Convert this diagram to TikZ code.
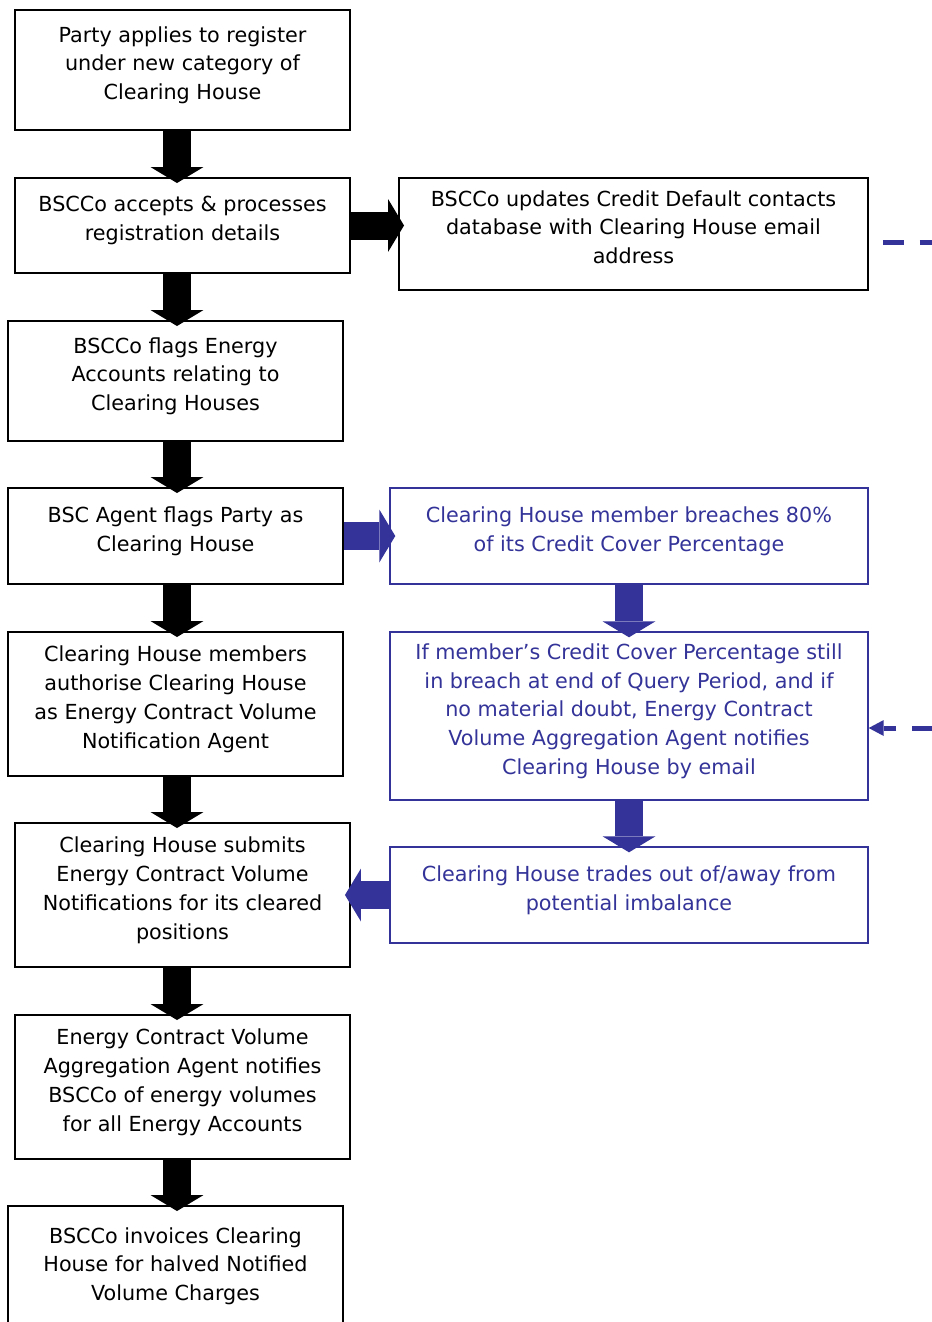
\documentclass[tikz,border=0pt]{standalone}
\usepackage{fontspec}
\setmainfont{DejaVu Sans}
\usetikzlibrary{arrows.meta}
\definecolor{chblue}{RGB}{51,51,153}
\tikzset{
  blackbox/.style={draw=black, line width=1.1pt, align=center, inner sep=0pt, execute at end node={\rule[-0.28cm]{0pt}{0pt}}},
  bluebox/.style={draw=chblue, text=chblue, line width=0.8pt, align=center, inner sep=0pt, execute at end node={\rule[-0.28cm]{0pt}{0pt}}},
  bigarrow/.style={line width=0.56cm, -{Triangle[width=1.06cm,length=0.32cm,line width=0pt]}, shorten >=-0.12cm},
  dashlink/.style={draw=chblue, line width=0.1cm, dash pattern=on 0.42cm off 0.32cm, dash phase=0.46cm}
}
\begin{document}
\begin{tikzpicture}[x=0.02cm, y=-0.02cm, every node/.style={font=\fontsize{11.8}{16.4}\selectfont}]
\useasboundingbox (0,0) rectangle (932,1322);
% Left column
\node[blackbox, minimum width=335*0.02cm, minimum height=120*0.02cm] (party) at (182.5,70) {Party applies to register\\under new category of\\Clearing House};
\node[blackbox, minimum width=335*0.02cm, minimum height=95*0.02cm] (accept) at (182.5,225.5) {BSCCo accepts \& processes\\registration details};
\node[blackbox, minimum width=335*0.02cm, minimum height=120*0.02cm] (flag) at (175.5,381) {BSCCo flags Energy\\Accounts relating to\\Clearing Houses};
\node[blackbox, minimum width=335*0.02cm, minimum height=96*0.02cm] (agent) at (175.5,536) {BSC Agent flags Party as\\Clearing House};
\node[blackbox, minimum width=335*0.02cm, minimum height=144*0.02cm] (authorise) at (175.5,704) {Clearing House members\\authorise Clearing House\\as Energy Contract Volume\\Notification Agent};
\node[blackbox, minimum width=335*0.02cm, minimum height=144*0.02cm] (submit) at (182.5,895) {Clearing House submits\\Energy Contract Volume\\Notifications for its cleared\\positions};
\node[blackbox, minimum width=335*0.02cm, minimum height=144*0.02cm] (aggregate) at (182.5,1087) {Energy Contract Volume\\Aggregation Agent notifies\\BSCCo of energy volumes\\for all Energy Accounts};
\node[blackbox, minimum width=335*0.02cm, minimum height=130*0.02cm] (invoice) at (175.5,1271) {BSCCo invoices Clearing\\House for halved Notified\\Volume Charges};

% Right column
\node[blackbox, minimum width=469*0.02cm, minimum height=112*0.02cm] (update) at (633.5,234) {BSCCo updates Credit Default contacts\\database with Clearing House email\\address};
\node[bluebox, minimum width=478*0.02cm, minimum height=96*0.02cm] (breach) at (629,536) {Clearing House member breaches 80\%\\of its Credit Cover Percentage};
\node[bluebox, minimum width=478*0.02cm, minimum height=168*0.02cm] (notify) at (629,716) {If member’s Credit Cover Percentage still\\in breach at end of Query Period, and if\\no material doubt, Energy Contract\\Volume Aggregation Agent notifies\\Clearing House by email};
\node[bluebox, minimum width=478*0.02cm, minimum height=96*0.02cm] (trade) at (629,895) {Clearing House trades out of/away from\\potential imbalance};

\coordinate (spine) at (177,0);
\coordinate (offtop) at (940,242);
\coordinate (offmid) at (940,728);

% Block arrows
\draw[bigarrow] (party.south -| spine) -- (accept.north -| spine);
\draw[bigarrow] (accept.south -| spine) -- (flag.north -| spine);
\draw[bigarrow] (flag.south -| spine) -- (agent.north -| spine);
\draw[bigarrow] (agent.south -| spine) -- (authorise.north -| spine);
\draw[bigarrow] (authorise.south -| spine) -- (submit.north -| spine);
\draw[bigarrow] (submit.south -| spine) -- (aggregate.north -| spine);
\draw[bigarrow] (aggregate.south -| spine) -- (invoice.north -| spine);
\draw[bigarrow] (accept.east) -- (update.west |- accept.east);
\draw[bigarrow, chblue] (agent.east) -- (breach.west);
\draw[bigarrow, chblue] (breach.south) -- (notify.north);
\draw[bigarrow, chblue] (notify.south) -- (trade.north);
\draw[bigarrow, chblue] (trade.west) -- (submit.east |- trade.west);

% Off-page links
\draw[dashlink] (update.east |- offtop) -- (offtop);
\draw[dashlink, -{Triangle[width=0.32cm,length=0.3cm,line width=0pt]}, dash phase=0.6cm] (offmid) -- (notify.east |- offmid);
\end{tikzpicture}
\end{document}
